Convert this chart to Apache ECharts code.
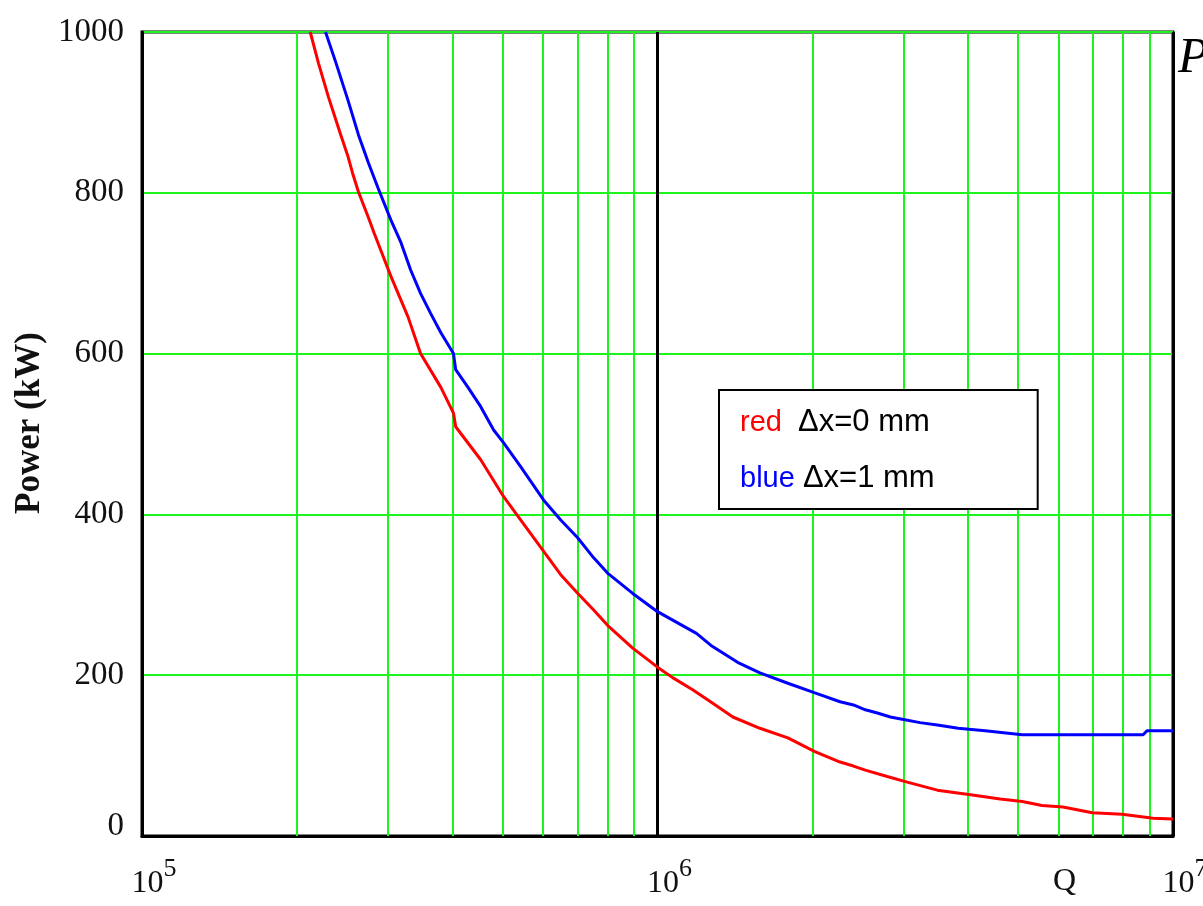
<!DOCTYPE html>
<html>
<head>
<meta charset="utf-8">
<script src="https://cdn.jsdelivr.net/npm/echarts@6/dist/echarts.min.js"></script>
<style>html,body{margin:0;padding:0;background:#fff}#main{width:1203px;height:906px}</style>
</head>
<body>
<div id="main"></div>
<script>
var redQ = [2.12e5, 2.2e5, 2.3e5, 2.43e5, 2.51e5, 2.56e5, 2.63e5, 2.75e5, 2.82e5, 3.04e5, 3.28e5, 3.47e5, 3.8e5, 4.02e5, 4.06e5, 4.54e5, 5.03e5, 5.43e5, 5.75e5, 6.49e5, 7.0e5, 7.52e5, 8.0e5, 8.94e5, 1.0e6, 1.07e6, 1.17e6, 1.28e6, 1.40e6, 1.58e6, 1.79e6, 2.02e6, 2.26e6, 2.4e6, 2.53e6, 2.79e6, 3.05e6, 3.49e6, 4.08e6, 4.62e6, 5.1e6, 5.57e6, 6.12e6, 6.97e6, 7.97e6, 9.15e6, 1e7];
var redP = [1000, 961, 919, 872, 845, 825, 801, 769, 750, 696, 646, 600, 558, 526, 509, 468, 422, 393, 371, 325, 302, 281, 262, 234, 210, 197, 182, 165, 148, 134, 122, 105, 92, 87, 82, 74, 67, 57, 51, 46, 43, 38, 36, 29, 27, 22, 21];
var blueQ = [2.27e5, 2.38e5, 2.51e5, 2.63e5, 2.75e5, 2.87e5, 3.04e5, 3.18e5, 3.32e5, 3.47e5, 3.63e5, 3.8e5, 4.02e5, 4.06e5, 4.28e5, 4.54e5, 4.81e5, 5.03e5, 5.43e5, 6.01e5, 6.49e5, 7.0e5, 7.52e5, 8.0e5, 8.94e5, 1.0e6, 1.19e6, 1.27e6, 1.43e6, 1.58e6, 1.79e6, 2.02e6, 2.26e6, 2.4e6, 2.53e6, 2.67e6, 2.83e6, 3.0e6, 3.23e6, 3.49e6, 3.83e6, 4.32e6, 5.1e6, 8.75e6, 8.91e6, 1e7];
var blueP = [1000, 961, 915, 872, 837, 806, 766, 738, 704, 675, 650, 626, 600, 580, 559, 534, 505, 489, 459, 418, 393, 371, 346, 327, 302, 279, 252, 237, 216, 203, 190, 178, 167, 163, 157, 153, 148, 145, 141, 138, 134, 131, 126, 126, 131, 131];
// minor vertical grid lines of the log axis
var minorQ = [2e5, 3e5, 4e5, 5e5, 6e5, 7e5, 8e5, 9e5, 2e6, 3e6, 4e6, 5e6, 6e6, 7e6, 8e6, 9e6];
var seriesNames = ['Δx=0 mm', 'Δx=1 mm'];
var legendTags = ['red', 'blue'];

var green = '#1cf51c';
var serif = '"Liberation Serif", "DejaVu Serif", serif';
var sans = '"Liberation Sans", Arial, sans-serif';

function pairs(xs, ys) {
    return xs.map(function (x, i) { return [x, ys[i]]; });
}

var chart = echarts.init(document.getElementById('main'));
var option = {
    animation: false,
    grid: {
        left: 142, right: 30, top: 32, bottom: 70,
        outerBoundsMode: 'none',
        containLabel: false,
        show: true, borderColor: '#000', borderWidth: 3
    },
    legend: {
        left: 719, top: 390,
        orient: 'vertical',
        data: seriesNames,
        icon: 'none',
        itemWidth: 0,
        itemHeight: 30,
        itemGap: 25,
        selectedMode: false,
        padding: [17, 103, 15, 16],
        backgroundColor: '#fff',
        borderColor: '#000',
        borderWidth: 2,
        formatter: function (name) {
            var i = seriesNames.indexOf(name);
            return '{' + (i === 0 ? 'r' : 'b') + '|' + legendTags[i] + '}' + (i === 0 ? '  ' : ' ') + '{t|' + name + '}';
        },
        textStyle: {
            fontFamily: sans,
            fontSize: 29, color: '#000', lineHeight: 30,
            rich: {
                r: { color: '#ff0000', fontSize: 29, fontFamily: sans },
                b: { color: '#0000ff', fontSize: 29, fontFamily: sans },
                t: { color: '#000', fontSize: 31, fontFamily: sans }
            }
        }
    },
    xAxis: {
        type: 'log',
        logBase: 10,
        min: 1e5,
        max: 1e7,
        axisLine: { show: true, lineStyle: { color: '#000', width: 3 } },
        axisTick: { show: false },
        splitLine: { show: true, lineStyle: { color: '#000', width: 3 } },
        axisLabel: {
            margin: 20,
            padding: [0, 0, 0, 24],
            formatter: function (v) {
                return '{b|10}{s|' + Math.round(Math.log10(v)) + '}';
            },
            rich: {
                b: { fontFamily: serif, fontSize: 32, color: '#111', lineHeight: 44, verticalAlign: 'bottom' },
                s: { fontFamily: serif, fontSize: 26, color: '#111', verticalAlign: 'top' }
            }
        }
    },
    yAxis: {
        type: 'value',
        min: 0,
        max: 1000,
        interval: 200,
        name: 'Power (kW)',
        nameLocation: 'middle',
        nameGap: 92,
        nameRotate: 90,
        nameTextStyle: { fontFamily: serif, fontSize: 35, fontWeight: 'bold', color: '#111', padding: [0, 0, 0, 22] },
        axisLine: { show: true, lineStyle: { color: '#000', width: 3 } },
        axisTick: { show: false },
        splitLine: { show: true, lineStyle: { color: green, width: 2 } },
        axisLabel: {
            margin: 18,
            fontFamily: serif, fontSize: 33, color: '#111',
            formatter: function (v) { return v === 0 ? '{z|0}' : String(v); },
            rich: { z: { fontFamily: serif, fontSize: 33, color: '#111', padding: [0, 0, 20, 0] } }
        }
    },
    series: [
        {
            type: 'line',
            name: 'grid',
            data: [],
            z: 1,
            markLine: {
                silent: true,
                z: 1,
                symbol: 'none',
                label: { show: false },
                lineStyle: { color: green, width: 2, type: 'solid' },
                data: minorQ.map(function (q) { return { xAxis: q }; })
            }
        },
        {
            type: 'line',
            name: seriesNames[0],
            data: pairs(redQ, redP),
            showSymbol: false,
            z: 3,
            lineStyle: { color: '#ff0000', width: 3 },
            itemStyle: { color: '#ff0000' }
        },
        {
            type: 'line',
            name: seriesNames[1],
            data: pairs(blueQ, blueP),
            showSymbol: false,
            z: 3,
            lineStyle: { color: '#0000ff', width: 3 },
            itemStyle: { color: '#0000ff' }
        }
    ],
    graphic: [
        { type: 'text', left: 1053, top: 866, style: { text: 'Q', font: '32px ' + serif, fill: '#111' } },
        { type: 'text', left: 1178, top: 34, style: { text: 'P', font: 'italic 50px ' + serif, fill: '#000' } }
    ]
};
chart.setOption(option);
</script>
</body>
</html>
